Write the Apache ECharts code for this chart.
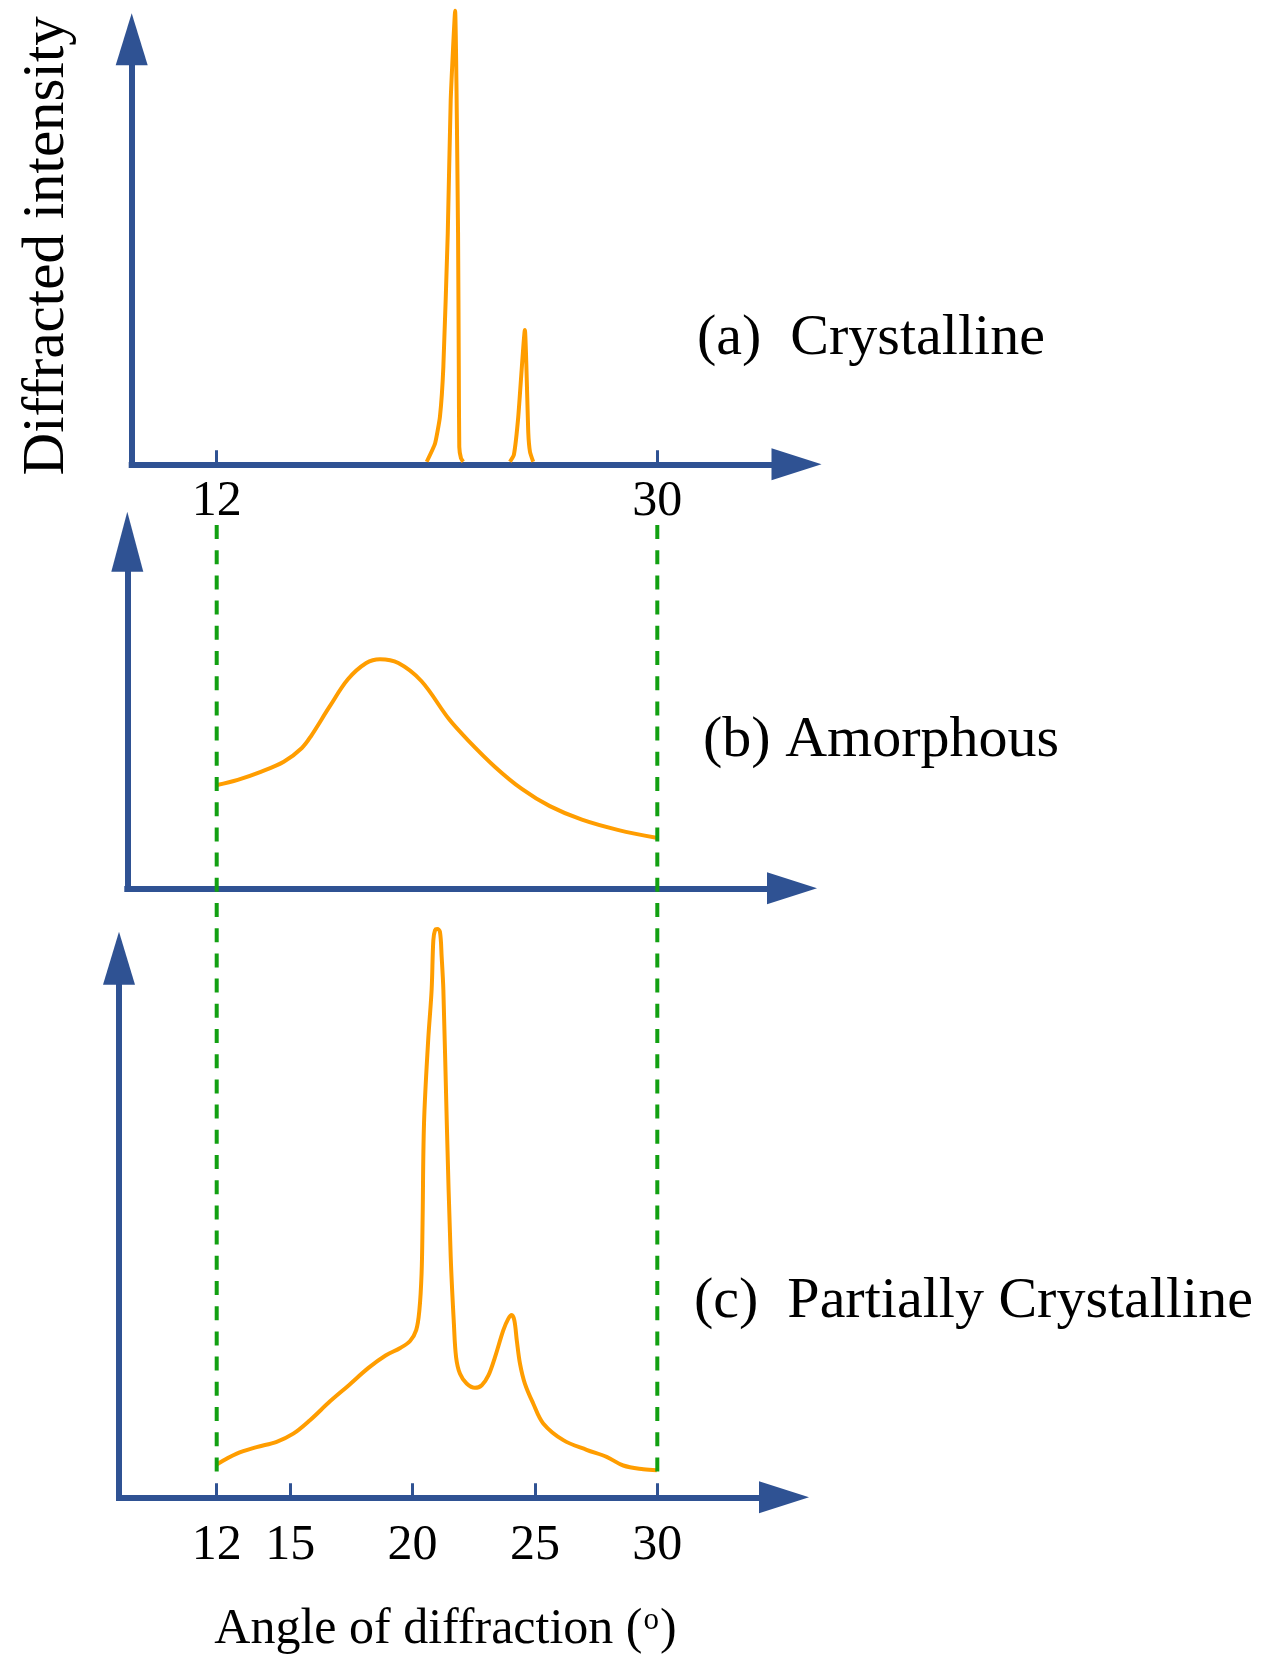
<!DOCTYPE html>
<html>
<head>
<meta charset="utf-8">
<title>XRD patterns</title>
<script src="https://cdn.jsdelivr.net/npm/echarts@6/dist/echarts.min.js"></script>
<style>
html, body { margin: 0; padding: 0; background: #fff; }
#chart { width: 1266px; height: 1657px; }
</style>
</head>
<body>
<div id="chart"></div>
<script>
// [angle (deg), intensity (arb. units 0-100)]
const crystPeak1 = [[20.58,0.6],[20.92,4.9],[21.12,11.2],[21.26,23.0],[21.44,54.4],[21.56,85.7],[21.74,106.7],
	[21.86,54.4],[21.89,23.0],[21.91,4.1],[21.98,1.4],[22.07,0.6]];
const crystPeak2 = [[23.98,0.6],[24.14,2.2],[24.32,11.2],[24.59,31.6],[24.73,7.4],[24.80,2.9],[24.93,0.6]];

const amorphous = [[12.01,29.8],[12.86,31.3],[13.80,33.6],[14.74,36.5],[15.48,40.5],[15.86,44.0],[16.61,52.4],
	[17.36,60.3],[18.11,65.0],[18.67,66.1],[19.42,65.0],[20.36,59.8],[21.48,48.9],[22.23,43.0],[23.36,35.1],
	[24.48,28.6],[25.61,23.7],[26.92,19.8],[28.42,16.8],[29.96,14.6]];

const partial = [[12.00,6.1],[12.82,8.1],[13.63,9.3],[14.45,10.3],[15.13,11.8],[15.81,14.3],[16.63,17.8],
	[17.40,20.8],[18.20,24.0],[18.90,26.3],[19.50,27.7],[19.90,29.0],[20.15,31.0],[20.28,34.7],[20.37,41.5],[20.41,50.8],
	[20.47,69.4],[20.64,84.8],[20.78,94.1],[20.85,103.3],[20.92,105.2],[21.01,105.4],[21.12,104.9],[21.19,100.3],
	[21.26,94.1],[21.40,69.4],[21.56,44.6],[21.69,32.2],[21.78,26.0],[21.94,22.9],[22.21,21.1],[22.55,20.3],
	[22.83,20.8],[23.10,22.6],[23.37,26.0],[23.71,31.0],[23.91,33.1],[24.05,33.8],[24.16,32.8],[24.26,29.1],
	[24.39,24.8],[24.59,21.1],[24.93,17.4],[25.34,13.7],[26.16,10.6],[27.11,8.8],[27.93,7.5],[28.61,5.9],
	[29.43,5.2],[29.98,5.0]];

const ticksTop = [12, 30];
const ticksBottom = [12, 15, 20, 25, 30];
const guideAngles = [12, 30];
const panelLabels = ['(a)  Crystalline', '(b) Amorphous', '(c)  Partially Crystalline'];

const blue = '#2f5293', orange = '#ff9d00', green = '#12a012';
const serif = '"Liberation Serif", "Times New Roman", serif';

// 12 and 30 deg sit at the same pixel column in every panel
const X12 = 216.7, X30 = 657.3;
const pxPerDeg = (X30 - X12) / 18;
function deg(px) { return 12 + (px - X12) / pxPerDeg; }

// left = y axis, right = end of x axis, top = end of y axis, bottom = x axis
const panels = [
	{left: 131.7, right: 796.5, top: 39.3, bottom: 464.3, yArrow: 52},
	{left: 127.3, right: 792, top: 541.7, bottom: 888.3, yArrow: 60},
	{left: 119, right: 784, top: 958.2, bottom: 1497.3, yArrow: 53}
];
const labelPos = [[697, 310], [703, 712], [694, 1273]];

let grids = panels.map(function (p) {
	return {left: p.left, top: p.top, width: p.right - p.left, height: p.bottom - p.top, outerBoundsMode: 'none'};
});
//overlay for the green guides
grids.push({left: panels[2].left, top: 525, width: panels[2].right - panels[2].left, height: 1480 - 525, outerBoundsMode: 'none'});

function xAx(i, ticks, margin, extra) {
	const p = panels[i];
	return Object.assign({
		type: 'value', gridIndex: i, min: deg(p.left), max: deg(p.right),
		axisLine: {show: true, onZero: false, symbol: ['none', 'triangle'], symbolSize: [32, 50],
			lineStyle: {color: blue, width: 6, cap: 'square'}},
		axisTick: ticks ? {show: true, inside: true, length: 14, customValues: ticks, lineStyle: {color: blue, width: 3}} : {show: false},
		axisLabel: ticks ? {show: true, customValues: ticks, margin: margin, color: '#000', fontFamily: serif, fontSize: 50} : {show: false},
		splitLine: {show: false}
	}, extra || {});
}
function yAx(i, extra) {
	const p = panels[i];
	return Object.assign({
		type: 'value', gridIndex: i, min: 0, max: 100,
		axisLine: {show: true, onZero: false, symbol: ['none', 'triangle'], symbolSize: [32, p.yArrow],
			lineStyle: {color: blue, width: 6, cap: 'square'}},
		axisTick: {show: false}, axisLabel: {show: false}, splitLine: {show: false}
	}, extra || {});
}

function curve(idx, data, smooth) {
	return {
		type: 'line', xAxisIndex: idx, yAxisIndex: idx, data: data, smooth: smooth,
		symbol: 'none', clip: false, silent: true,
		lineStyle: {color: orange, width: 4}
	};
}

let option = {
	animation: false,
	backgroundColor: '#fff',
	textStyle: {fontFamily: serif},
	grid: grids,
	xAxis: [
		xAx(0, ticksTop, 13),
		xAx(1, null),
		xAx(2, ticksBottom, 24, {
			name: 'Angle of diffraction ({sup|o})', nameLocation: 'middle', nameGap: 108,
			nameTextStyle: {color: '#000', fontFamily: serif, fontSize: 50, padding: [0, 12, 0, 0],
				rich: {sup: {fontSize: 31, fontFamily: serif, color: '#000', verticalAlign: 'top', padding: [0, 1, 14, 1]}}}
		}),
		{type: 'value', gridIndex: 3, min: deg(panels[2].left), max: deg(panels[2].right), show: false}
	],
	yAxis: [
		yAx(0, {name: 'Diffracted intensity', nameLocation: 'middle', nameGap: 55, nameRotate: 90,
			nameTextStyle: {color: '#000', fontFamily: serif, fontSize: 59, padding: [0, 0, 0, 12]}}),
		yAx(1),
		yAx(2),
		{type: 'value', gridIndex: 3, min: 0, max: 1, show: false}
	],
	graphic: panelLabels.map(function (t, i) {
		return {type: 'text', left: labelPos[i][0], top: labelPos[i][1], silent: true,
			style: {text: t, fontSize: 58, fontFamily: serif, fill: '#000'}};
	}),
	series: [
		curve(0, crystPeak1, 0.15),
		curve(0, crystPeak2, 0.15),
		curve(1, amorphous, 0.35),
		curve(2, partial, 0.35)
	].concat(guideAngles.map(function (a) {
		return {type: 'line', xAxisIndex: 3, yAxisIndex: 3, data: [[a, 1], [a, 0]], symbol: 'none', silent: true,
			lineStyle: {color: green, width: 4, type: [14, 11.2]}};
	}))
};

const chart = echarts.init(document.getElementById('chart'), null, {renderer: 'canvas'});
chart.setOption(option);
</script>
</body>
</html>
